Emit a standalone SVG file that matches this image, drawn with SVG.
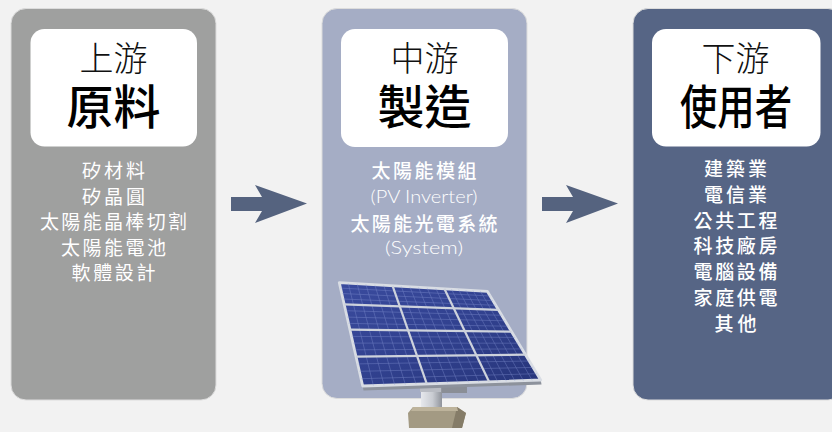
<svg xmlns="http://www.w3.org/2000/svg" width="832" height="432" viewBox="0 0 832 432">
<defs>
<style>
.col{stroke:#dcdcdc;stroke-width:1}
.hdr{fill:#ffffff}
.cjk{font-family:"Noto Sans CJK TC","Noto Sans CJK SC",sans-serif}
.ht{text-anchor:middle}
.sm{font-size:34px;font-weight:300;fill:#111}
.big{font-size:47px;font-weight:500;fill:#000}
.li{font-size:19px;fill:#ffffff;text-anchor:middle}
.lat{font-family:"Lato","Open Sans","DejaVu Sans",sans-serif;font-size:18px;font-weight:300;fill:#ffffff;text-anchor:middle}
.arrow{fill:#55637f}
.cell{stroke:#8e9ddb;stroke-width:0.6;opacity:0.55}
.mod{stroke:#cdd2dc;stroke-width:2.2}
</style>
<linearGradient id="pg" x1="0" y1="0" x2="1" y2="1">
<stop offset="0" stop-color="#3a4b9e"/>
<stop offset="0.5" stop-color="#31418f"/>
<stop offset="1" stop-color="#27357a"/>
</linearGradient>
<linearGradient id="post" x1="0" y1="0" x2="1" y2="0">
<stop offset="0" stop-color="#e6e8ec"/>
<stop offset="0.55" stop-color="#c9ccd2"/>
<stop offset="1" stop-color="#8f939b"/>
</linearGradient>
</defs>
<rect width="832" height="432" fill="#f2f2f2"/>

<g id="upstream">
<rect class="col" x="11" y="8.5" width="205" height="391.5" rx="15" fill="#9fa09f"/>
<rect class="hdr" x="30.5" y="29" width="166.5" height="117.5" rx="14"/>
<text class="cjk ht"><tspan class="sm" x="113.5" y="71">上游</tspan><tspan class="big" x="113.5" y="124">原料</tspan></text>
<text class="cjk li" x="113.5" y="178" textLength="63" lengthAdjust="spacing">矽材料</text>
<text class="cjk li" x="113.5" y="203.5" textLength="63" lengthAdjust="spacing">矽晶圓</text>
<text class="cjk li" x="113.5" y="229" textLength="147" lengthAdjust="spacing">太陽能晶棒切割</text>
<text class="cjk li" x="113.5" y="254.5" textLength="105" lengthAdjust="spacing">太陽能電池</text>
<text class="cjk li" x="113.5" y="280" textLength="84" lengthAdjust="spacing">軟體設計</text>
</g>

<g id="midstream">
<rect class="col" x="322" y="8.5" width="205" height="390" rx="15" fill="#a5adc5"/>
<rect class="hdr" x="341" y="29" width="167" height="118" rx="14"/>
<text class="cjk ht"><tspan class="sm" x="424.5" y="71">中游</tspan><tspan class="big" x="424.5" y="124">製造</tspan></text>
<text class="cjk li" x="424" y="177.5" font-weight="500" textLength="105" lengthAdjust="spacing">太陽能模組</text>
<text class="lat" x="424" y="203" textLength="107" lengthAdjust="spacingAndGlyphs">(PV Inverter)</text>
<text class="cjk li" x="424" y="231" font-weight="500" textLength="147" lengthAdjust="spacing">太陽能光電系統</text>
<text class="lat" x="424" y="254" textLength="78" lengthAdjust="spacingAndGlyphs">(System)</text>
</g>

<g id="solar-panel">
<rect x="441" y="384" width="26" height="9" fill="#8a8e96"/>
<rect x="421" y="386" width="21" height="22" fill="url(#post)"/>
<rect x="420" y="386" width="21" height="6" fill="#b9bcc3"/>
<polygon points="413,407 457,407 466,413 462,428 409,428 408,413" fill="#a39a83"/>
<polygon points="457,407 466,413 462,428 452,428" fill="#857c68"/>
<polygon points="413,407 457,407 458,411 411,411" fill="#bdb39b"/>
<polygon points="362.7,386 540.7,380 541.5,384.5 363.5,390.5" fill="#8d929c"/>
<polygon points="339.3,282.7 487.3,291.3 540.7,380 362.7,386" fill="url(#pg)" stroke="#d9dde4" stroke-width="2.8" stroke-linejoin="round"/>
<g class="cell">
<line x1="348.2" y1="283.2" x2="373.4" y2="385.6"/>
<line x1="357.1" y1="283.7" x2="384.1" y2="385.3"/>
<line x1="365.9" y1="284.2" x2="394.7" y2="384.9"/>
<line x1="374.8" y1="284.8" x2="405.4" y2="384.6"/>
<line x1="383.7" y1="285.3" x2="416.1" y2="384.2"/>
<line x1="401.2" y1="286.3" x2="437.1" y2="383.5"/>
<line x1="409.9" y1="286.8" x2="447.6" y2="383.1"/>
<line x1="418.5" y1="287.3" x2="457.9" y2="382.8"/>
<line x1="427.1" y1="287.8" x2="468.3" y2="382.4"/>
<line x1="435.8" y1="288.3" x2="478.8" y2="382.1"/>
<line x1="451.5" y1="289.2" x2="497.6" y2="381.5"/>
<line x1="458.7" y1="289.6" x2="506.3" y2="381.2"/>
<line x1="465.8" y1="290.1" x2="514.9" y2="380.9"/>
<line x1="473.0" y1="290.5" x2="523.4" y2="380.6"/>
<line x1="480.2" y1="290.9" x2="532.2" y2="380.3"/>
<line x1="340.5" y1="288.1" x2="490.1" y2="296.0"/>
<line x1="341.8" y1="293.5" x2="492.9" y2="300.6"/>
<line x1="343.0" y1="299.0" x2="495.7" y2="305.3"/>
<line x1="345.6" y1="310.7" x2="501.8" y2="315.3"/>
<line x1="347.1" y1="317.1" x2="505.1" y2="320.8"/>
<line x1="348.5" y1="323.4" x2="508.3" y2="326.2"/>
<line x1="351.5" y1="336.4" x2="515.1" y2="337.4"/>
<line x1="353.0" y1="343.1" x2="518.5" y2="343.2"/>
<line x1="354.5" y1="349.8" x2="522.0" y2="348.9"/>
<line x1="357.7" y1="363.9" x2="529.3" y2="361.0"/>
<line x1="359.4" y1="371.3" x2="533.1" y2="367.4"/>
<line x1="361.0" y1="378.7" x2="536.9" y2="373.7"/>
</g>
<g class="mod">
<line x1="392.6" y1="285.8" x2="426.8" y2="383.8"/>
<line x1="444.4" y1="288.8" x2="489.1" y2="381.7"/>
<line x1="344.2" y1="304.4" x2="498.5" y2="309.9"/>
<line x1="349.9" y1="329.7" x2="511.6" y2="331.7"/>
<line x1="356.0" y1="356.6" x2="525.5" y2="354.7"/>
</g>
</g>

<g id="downstream">
<rect class="col" x="633" y="8.5" width="210" height="391.5" rx="15" fill="#566585"/>
<rect class="hdr" x="652" y="29" width="168.5" height="117.5" rx="14"/>
<text class="cjk ht"><tspan class="sm" x="735.5" y="71">下游</tspan><tspan class="big" x="736" y="124" textLength="112" lengthAdjust="spacingAndGlyphs">使用者</tspan></text>
<text class="cjk li" x="735.5" y="176" font-weight="500" textLength="63" lengthAdjust="spacing">建築業</text>
<text class="cjk li" x="735.5" y="202" font-weight="500" textLength="63" lengthAdjust="spacing">電信業</text>
<text class="cjk li" x="735.5" y="227.7" font-weight="500" textLength="84" lengthAdjust="spacing">公共工程</text>
<text class="cjk li" x="735.5" y="253.3" font-weight="500" textLength="84" lengthAdjust="spacing">科技廠房</text>
<text class="cjk li" x="735.5" y="279.3" font-weight="500" textLength="84" lengthAdjust="spacing">電腦設備</text>
<text class="cjk li" x="735.5" y="305.3" font-weight="500" textLength="84" lengthAdjust="spacing">家庭供電</text>
<text class="cjk li" x="735.5" y="331" font-weight="500" textLength="42" lengthAdjust="spacing">其他</text>
</g>

<g id="connectors">
<polygon class="arrow" points="231,197 262,197 255,185 307,203.5 255,223 262,211 231,211"/>
<polygon class="arrow" points="542,197 573,197 566,185 618,203.5 566,223 573,211 542,211"/>
</g>
</svg>
